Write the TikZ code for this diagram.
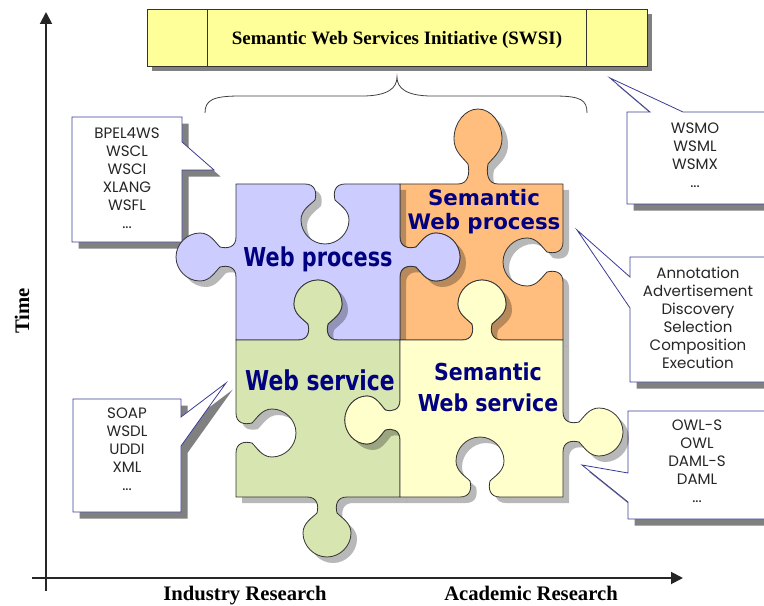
\documentclass[tikz,border=0pt]{standalone}
\usepackage{fontspec}
\setmainfont{Liberation Serif}
\newfontfamily\listfont{Poppins}
\newfontfamily\piecefont{DejaVu Sans}
\newfontfamily\narrowfont[FakeStretch=0.8]{DejaVu Sans}
\newfontfamily\semifont[FakeStretch=0.88]{DejaVu Sans}
\usetikzlibrary{arrows.meta,shadows}
\pgfdeclarelayer{bg}
\pgfsetlayers{bg,main}

\definecolor{procblue}{HTML}{CCCCFF}
\definecolor{semorange}{HTML}{FFBE7D}
\definecolor{servgreen}{HTML}{D7E5B1}
\definecolor{semyellow}{HTML}{FFFFCC}
\definecolor{swsiyellow}{HTML}{FFFF99}
\definecolor{labelnavy}{HTML}{000080}
\definecolor{boxline}{HTML}{3C3C96}

% jigsaw knob on a horizontal edge: centre x, edge y, travel (+1/-1), bulge (+down/-up)
\newcommand\knobH[4]{%
    -- ({#1-20*(#3)},#2)
    .. controls ({#1-10*(#3)},#2) and ({#1-8*(#3)},{#2+8*(#4)}) .. ({#1-10*(#3)},{#2+16*(#4)})
    .. controls ({#1-15*(#3)},{#2+21*(#4)}) and ({#1-24*(#3)},{#2+26*(#4)}) .. ({#1-24*(#3)},{#2+36*(#4)})
    .. controls ({#1-24*(#3)},{#2+49*(#4)}) and ({#1-13*(#3)},{#2+60*(#4)}) .. (#1,{#2+60*(#4)})
    .. controls ({#1+13*(#3)},{#2+60*(#4)}) and ({#1+24*(#3)},{#2+49*(#4)}) .. ({#1+24*(#3)},{#2+36*(#4)})
    .. controls ({#1+24*(#3)},{#2+26*(#4)}) and ({#1+15*(#3)},{#2+21*(#4)}) .. ({#1+10*(#3)},{#2+16*(#4)})
    .. controls ({#1+8*(#3)},{#2+8*(#4)}) and ({#1+10*(#3)},#2) .. ({#1+20*(#3)},#2)}
% same on a vertical edge: edge x, centre y, travel (+down/-up), bulge (+right/-left)
\newcommand\knobV[4]{%
    -- (#1,{#2-20*(#3)})
    .. controls (#1,{#2-10*(#3)}) and ({#1+8*(#4)},{#2-8*(#3)}) .. ({#1+16*(#4)},{#2-10*(#3)})
    .. controls ({#1+21*(#4)},{#2-15*(#3)}) and ({#1+26*(#4)},{#2-24*(#3)}) .. ({#1+36*(#4)},{#2-24*(#3)})
    .. controls ({#1+49*(#4)},{#2-24*(#3)}) and ({#1+60*(#4)},{#2-13*(#3)}) .. ({#1+60*(#4)},#2)
    .. controls ({#1+60*(#4)},{#2+13*(#3)}) and ({#1+49*(#4)},{#2+24*(#3)}) .. ({#1+36*(#4)},{#2+24*(#3)})
    .. controls ({#1+26*(#4)},{#2+24*(#3)}) and ({#1+21*(#4)},{#2+15*(#3)}) .. ({#1+16*(#4)},{#2+10*(#3)})
    .. controls ({#1+8*(#4)},{#2+8*(#3)}) and (#1,{#2+10*(#3)}) .. (#1,{#2+20*(#3)})}

\tikzset{
    every node/.style={inner sep=0mm, align=center},
    piece/.style={draw=black!80, line width=0.6pt,
        drop shadow={shadow xshift=4.5pt, shadow yshift=-4.5pt, fill=black, opacity=0.28}},
    listbox/.style={fill=white, draw=boxline, line width=0.6pt,
        drop shadow={shadow xshift=5pt, shadow yshift=-5pt, fill=black!50, opacity=1}},
    listtext/.style={font=\listfont\fontsize{11.3}{13.6}\selectfont, text=black!85},
    piecelabel/.style={text=labelnavy},
    axis/.style={line width=1.4pt, draw=black!85, -{Triangle[length=9pt, width=9pt]}},
    axislabel/.style={font=\bfseries\fontsize{15.5}{18}\selectfont}
}

\begin{document}
\begin{tikzpicture}[x=0.75pt, y=-0.75pt]
    \useasboundingbox (0,0) rectangle (764,606);
    \clip (0,0) rectangle (764,606);

    \coordinate (timetop) at (46,12);
    \coordinate (timefoot) at (46,591);
    \coordinate (resleft) at (32,578);
    \coordinate (resright) at (683,578);

    \begin{pgfonlayer}{bg}
        \draw[axis] (timefoot) -- (timetop);
        \draw[axis] (resleft) -- (resright);
    \end{pgfonlayer}

    \node (time) [axislabel, rotate=90] at (22,311) {Time};
    \node (industry) [axislabel, anchor=base] at (245,600) {Industry Research};
    \node (academic) [axislabel, anchor=base] at (531,600) {Academic Research};

    \filldraw[fill=swsiyellow, draw=black!80, line width=0.6pt,
        drop shadow={shadow xshift=4pt, shadow yshift=-4pt, fill=black!50, opacity=1}]
        (147,9) rectangle (647,66);
    \draw[black!80, line width=0.6pt] (207,9) -- (207,66) (586,9) -- (586,66);
    \node (swsi) [font=\bfseries\fontsize{14.2}{17}\selectfont, anchor=base] at (397,45)
        {Semantic Web Services Initiative (SWSI)};

    \draw[black!75, line width=0.6pt] (205,113) .. controls (205,100) and (213,96) .. (240,96)
        -- (362,96) .. controls (388,96) and (397,88) .. (397,77)
        .. controls (397,88) and (406,96) .. (432,96) -- (554,96)
        .. controls (581,96) and (587,100) .. (587,113);

    \filldraw[listbox] (72,117) -- (182,117) -- (182,142) -- (214,170) -- (182,170)
        -- (182,242) -- (72,242) -- cycle;
    \node (bpel) [listtext] at (127,178) {BPEL4WS\\WSCL\\WSCI\\XLANG\\WSFL\\...};

    \filldraw[listbox] (73,399) -- (181,399) -- (181,417) -- (226,383) -- (181,446)
        -- (181,512) -- (73,512) -- cycle;
    \node (soap) [listtext] at (127,449) {SOAP\\WSDL\\UDDI\\XML\\...};

    \filldraw[listbox] (627,112) -- (650,112) -- (610,78) -- (683,112) -- (772,112)
        -- (772,204) -- (627,204) -- cycle;
    \node (wsmo) [listtext] at (695,155) {WSMO\\WSML\\WSMX\\...};

    \filldraw[listbox] (630,257) -- (772,257) -- (772,382) -- (630,382) -- (630,308)
        -- (577,230) -- (630,277) -- cycle;
    \node (tasks) [listtext] at (698,318) {Annotation\\Advertisement\\Discovery\\Selection\\Composition\\Execution};

    \filldraw[listbox] (628,411) -- (772,411) -- (772,519) -- (628,519) -- (628,502)
        -- (582,465) -- (628,473) -- cycle;
    \node (owls) [listtext] at (697,461) {OWL-S\\OWL\\DAML-S\\DAML\\...};

    \filldraw[piece, fill=semorange] (400,184) \knobH{478}{184}{1}{-1.25} -- (563,184)
        \knobV{563}{262}{1}{-1} -- (563,340) \knobH{482}{340}{-1}{-1} -- (400,340)
        \knobV{400}{257}{-1}{1} -- cycle;
    \filldraw[piece, fill=procblue] (236,184) \knobH{325}{184}{1}{1} -- (400,184)
        \knobV{400}{257}{1}{1} -- (400,340) \knobH{318}{340}{-1}{-1} -- (236,340)
        \knobV{236}{257}{-1}{-1} -- cycle;
    \filldraw[piece, fill=servgreen] (236,340) \knobH{318}{340}{1}{-1} -- (400,340)
        \knobV{400}{420}{1}{-0.92} -- (400,497) \knobH{327}{497}{-1}{1} -- (236,497)
        \knobV{236}{433}{-1}{1} -- cycle;
    \filldraw[piece, fill=semyellow] (400,340) \knobH{482}{340}{1}{-1} -- (563,340)
        \knobV{563}{432}{1}{1} -- (563,497) \knobH{480}{497}{-1}{-1} -- (400,497)
        \knobV{400}{420}{-1}{-0.92} -- cycle;

    \node (webproc) [piecelabel, font=\narrowfont\bfseries\fontsize{19.5}{22}\selectfont, anchor=base]
        at (318,267) {Web process};
    \node (semproc) [piecelabel, font=\piecefont\bfseries\fontsize{16}{18}\selectfont]
        at (484,212) {Semantic\\Web process};
    \node (webserv) [piecelabel, font=\narrowfont\bfseries\fontsize{20.5}{24}\selectfont, anchor=base]
        at (320,390) {Web service};
    \node (semserv) [piecelabel, font=\semifont\bfseries\fontsize{17.5}{23}\selectfont]
        at (488,387) {Semantic\\Web service};
\end{tikzpicture}
\end{document}
